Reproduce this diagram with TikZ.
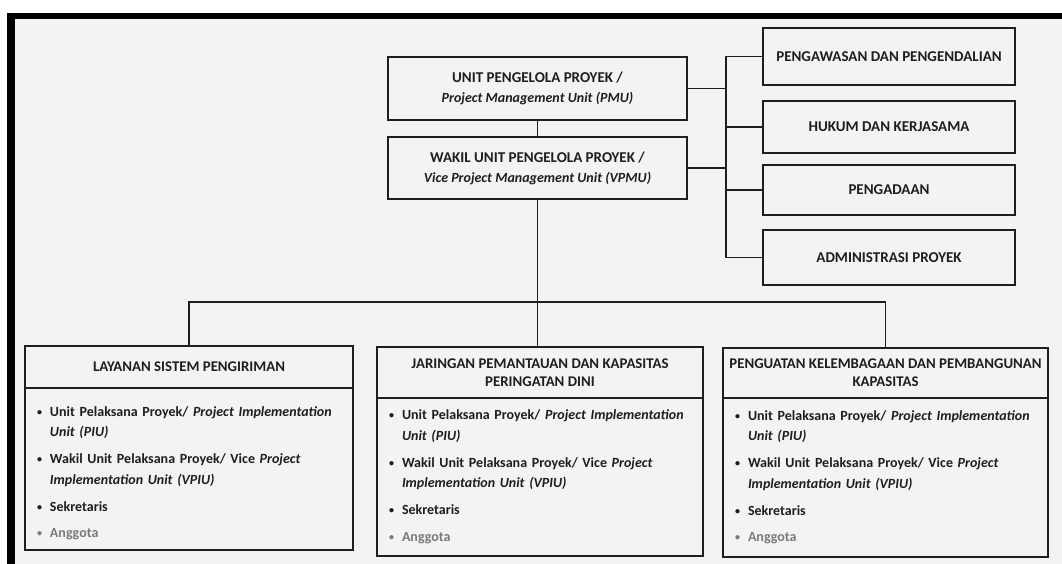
\documentclass[tikz,border=0pt]{standalone}
\usepackage{fontspec}
\setmainfont{Carlito}
\usetikzlibrary{positioning}
\definecolor{paper}{HTML}{F3F3F3}
\definecolor{ink}{HTML}{1E1E1E}
\definecolor{faded}{HTML}{7A7A7A}
\newcommand{\bul}{\makebox[13pt][l]{\raisebox{1pt}{\fontsize{10}{10}\selectfont\textbullet}}}
\newcommand{\hang}{\hspace*{13pt}}
\newcommand{\memberlist}[1]{%
\rule{0pt}{#1}\bul Unit Pelaksana Proyek/ \textit{Project Implementation}\\
\hang\textit{Unit (PIU)}\\[6.5pt]
\bul Wakil Unit Pelaksana Proyek/ Vice \textit{Project}\\
\hang\textit{Implementation Unit (VPIU)}\\[6.5pt]
\bul Sekretaris\\[6pt]
\textcolor{faded}{\bul Anggota}}

\begin{document}
\begin{tikzpicture}[x=1pt,y=-1pt,font=\fontsize{14}{20}\selectfont\bfseries]
		\tikzstyle{unit}=[rectangle, draw=ink, line width=1.2pt, fill=paper, outer sep=0pt, align=center, text=ink]
		\tikzstyle{big unit}=[unit, minimum width=299pt]
		\tikzstyle{side unit}=[unit, minimum width=252pt, font=\fontsize{15}{18}\selectfont\bfseries]
		\tikzstyle{head}=[unit, font=\fontsize{14.8}{18}\selectfont\bfseries, inner xsep=1pt]
		\tikzstyle{body}=[unit, align=left, inner xsep=12pt, font=\fontsize{14}{20.5}\selectfont\bfseries]
		\tikzstyle{link}=[draw=ink, line width=1.2pt]

		\useasboundingbox (0,0) rectangle (1062,564);
		\fill[white] (0,0) rectangle (1062,564);
		\fill[paper] (7,13) rectangle (1062,564);
		\fill[black] (7,13) rectangle (1062,19);
		\fill[black] (7,13) rectangle (15,564);

		\node [big unit, minimum height=63pt] (pmu) at (537.5,88.5) {{\fontsize{15}{20}\selectfont UNIT PENGELOLA PROYEK /}\\\textit{Project Management Unit (PMU)}};
		\node [big unit, minimum height=62pt] (vpmu) [below=17pt of pmu] {{\fontsize{15}{20}\selectfont WAKIL UNIT PENGELOLA PROYEK /}\\\textit{Vice Project Management Unit (VPMU)}};

		\node [side unit, minimum height=57pt] (awas) at (889,56.5) {PENGAWASAN DAN PENGENDALIAN};
		\node [side unit, minimum height=52pt] (hukum) [below=16pt of awas] {HUKUM DAN KERJASAMA};
		\node [side unit, minimum height=50pt] (adaan) [below=12pt of hukum] {PENGADAAN};
		\node [side unit, minimum height=55pt] (admin) [below=15pt of adaan] {ADMINISTRASI PROYEK};

		\node [head, minimum width=328pt, minimum height=42pt] (layanan) at (189,367) {LAYANAN SISTEM PENGIRIMAN};
		\node [body, text width=304pt, minimum height=162pt] (layananlist) [below=0pt of layanan] {\memberlist{18pt}};
		\node [head, minimum width=326pt, minimum height=51pt] (jaringan) at (540,372.5) {JARINGAN PEMANTAUAN DAN KAPASITAS\\PERINGATAN DINI};
		\node [body, text width=302pt, minimum height=158pt] (jaringanlist) [below=0pt of jaringan] {\memberlist{0pt}};
		\node [head, minimum width=325pt, minimum height=50pt] (penguatan) at (885.5,373) {PENGUATAN KELEMBAGAAN DAN PEMBANGUNAN\\KAPASITAS};
		\node [body, text width=301pt, minimum height=159pt] (penguatanlist) [below=0pt of penguatan] {\memberlist{0pt}};

		\coordinate (sidebus) at (726,88.5);
		\coordinate (split) at (537.5,302);

		\draw [link] (pmu) -- (vpmu);
		\draw [link] (pmu.east) -- (sidebus);
		\draw [link] (vpmu.east) -- (vpmu.east -| sidebus);
		\draw [link] (awas.west) -| (sidebus) |- (admin.west);
		\draw [link] (hukum.west) -- (hukum.west -| sidebus);
		\draw [link] (adaan.west) -- (adaan.west -| sidebus);
		\draw [link] (vpmu.south) -- (vpmu.south |- jaringan.north);
		\draw [link] (layanan.north) |- (split) -| (penguatan.north);
	\end{tikzpicture}
\end{document}
